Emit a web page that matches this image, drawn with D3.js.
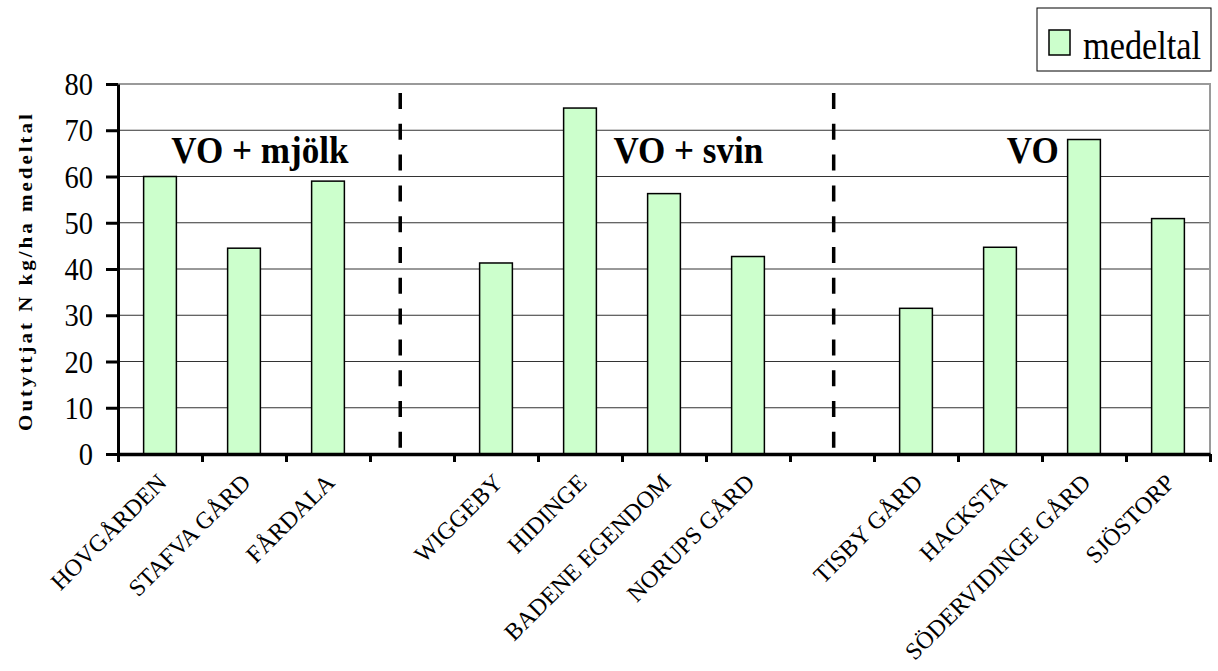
<!DOCTYPE html>
<html>
<head>
<meta charset="utf-8">
<script src="https://cdn.jsdelivr.net/npm/d3@7"></script>
<style>
  html, body { margin: 0; padding: 0; background: #fff; }
  svg { display: block; }
  text { font-family: "Liberation Serif", "Times New Roman", serif; fill: #000; }
</style>
</head>
<body>
<svg id="chart" width="1218" height="671"></svg>
<script>
// Farms (empty slots separate the three farm groups)
const categories = ["HOVGÅRDEN", "STAFVA GÅRD", "FÅRDALA", null,
                    "WIGGEBY", "HIDINGE", "BADENE EGENDOM", "NORUPS GÅRD", null,
                    "TISBY GÅRD", "HACKSTA", "SÖDERVIDINGE GÅRD", "SJÖSTORP"];
// Unused nitrogen, kg N/ha, mean
const values = [60, 44.5, 59, null,
                41.3, 74.8, 56.3, 42.7, null,
                31.5, 44.7, 68, 50.9];
const yTicks = [0, 10, 20, 30, 40, 50, 60, 70, 80];
const groupNames = ["VO + mjölk", "VO + svin", "VO"];
const seriesName = "medeltal";
const yTitle = "Outyttjat N kg/ha medeltal";

const svg = d3.select("#chart");
const plot = { left: 118, right: 1210, top: 84, bottom: 454 };
const squeeze = 0.89; // narrow text glyphs horizontally

const x = d3.scaleBand().domain(d3.range(categories.length))
  .range([plot.left, plot.right]).paddingInner(0).paddingOuter(0);
// continuous slot scale for boundaries, dividers and group captions
const slot = d3.scaleLinear().domain([0, categories.length]).range([plot.left, plot.right]);
const y = d3.scaleLinear().domain([0, 80]).range([plot.bottom, plot.top]);

// gridlines
svg.append("g").selectAll("line")
  .data(yTicks.filter(t => t > 0 && t < 80))
  .join("line")
  .attr("x1", plot.left).attr("x2", plot.right)
  .attr("y1", d => y(d)).attr("y2", d => y(d))
  .attr("stroke", "#333").attr("stroke-width", 1);

// plot border (top and right)
svg.append("path")
  .attr("d", `M${plot.left},${y(80)}H${plot.right}V${plot.bottom}`)
  .attr("fill", "none").attr("stroke", "#9a9a9a").attr("stroke-width", 2);

// group dividers
const dividerSlots = [3.36, 8.52];
svg.append("g").selectAll("line")
  .data(dividerSlots)
  .join("line")
  .attr("x1", d => slot(d)).attr("x2", d => slot(d))
  .attr("y1", y(80) + 9).attr("y2", plot.bottom)
  .attr("stroke", "#000").attr("stroke-width", 3.5)
  .attr("stroke-dasharray", "16,14.8");

// bars
const barW = x.bandwidth() * 0.39;
svg.append("g").selectAll("rect")
  .data(values.map((v, i) => ({ v, i })).filter(d => d.v !== null))
  .join("rect")
  .attr("x", d => x(d.i) + (x.bandwidth() - barW) / 2)
  .attr("width", barW)
  .attr("y", d => y(d.v))
  .attr("height", d => y(0) - y(d.v))
  .attr("fill", "#ccffcc")
  .attr("stroke", "#000").attr("stroke-width", 1.5);

// y axis
const yAxis = svg.append("g")
  .attr("transform", `translate(${plot.left},0)`)
  .call(d3.axisLeft(y).tickValues(yTicks).tickSize(12).tickSizeOuter(0));
yAxis.attr("font-family", null);
yAxis.select(".domain").attr("stroke", "#000").attr("stroke-width", 3);
yAxis.selectAll(".tick line").attr("stroke", "#000").attr("stroke-width", 3);
yAxis.selectAll(".tick text")
  .attr("x", null)
  .attr("transform", `translate(-25,0) scale(${squeeze},1)`)
  .attr("dy", "0.33em")
  .style("font-family", '"Liberation Serif", "Times New Roman", serif')
  .style("font-size", "32px");

// x axis with ticks on slot boundaries
const xAxis = svg.append("g")
  .attr("transform", `translate(0,${plot.bottom})`)
  .call(d3.axisBottom(slot).tickValues(d3.range(categories.length + 1)).tickSize(8).tickSizeOuter(0).tickFormat(""));
xAxis.select(".domain").attr("stroke", "#000").attr("stroke-width", 3.5);
xAxis.selectAll(".tick line").attr("stroke", "#000").attr("stroke-width", 3);

// category labels
svg.append("g").selectAll("text")
  .data(categories.map((c, i) => ({ c, i })).filter(d => d.c))
  .join("text")
  .attr("transform", d => `translate(${x(d.i) + x.bandwidth() / 2 + 8},${plot.bottom + 30}) rotate(-45)`)
  .attr("text-anchor", "end")
  .style("font-size", "24px")
  .text(d => d.c);

// group captions
const captionSlots = [1.69, 6.79, 10.89];
svg.append("g").selectAll("text")
  .data(groupNames)
  .join("text")
  .attr("transform", (d, i) => `translate(${slot(captionSlots[i])},${y(80) + 79}) scale(0.9,1)`)
  .attr("text-anchor", "middle")
  .style("font-size", "39px").style("font-weight", "bold")
  .text(d => d);

// y axis title
svg.append("text")
  .attr("transform", `translate(32,${(plot.top + plot.bottom) / 2 + 2}) scale(${squeeze},1) rotate(-90)`)
  .attr("text-anchor", "middle")
  .style("font-size", "21px").style("font-weight", "bold")
  .style("letter-spacing", "3px")
  .text(yTitle);

// legend
const legend = svg.append("g").attr("transform", "translate(1037,8)");
legend.append("rect").attr("width", 174).attr("height", 63)
  .attr("fill", "#fff").attr("stroke", "#000").attr("stroke-width", 1);
legend.append("rect").attr("x", 12).attr("y", 22).attr("width", 21).attr("height", 25)
  .attr("fill", "#ccffcc").attr("stroke", "#000").attr("stroke-width", 1.5);
legend.append("text")
  .attr("transform", `translate(46,51) scale(0.88,1)`)
  .style("font-size", "39px")
  .text(seriesName);
</script>
</body>
</html>
